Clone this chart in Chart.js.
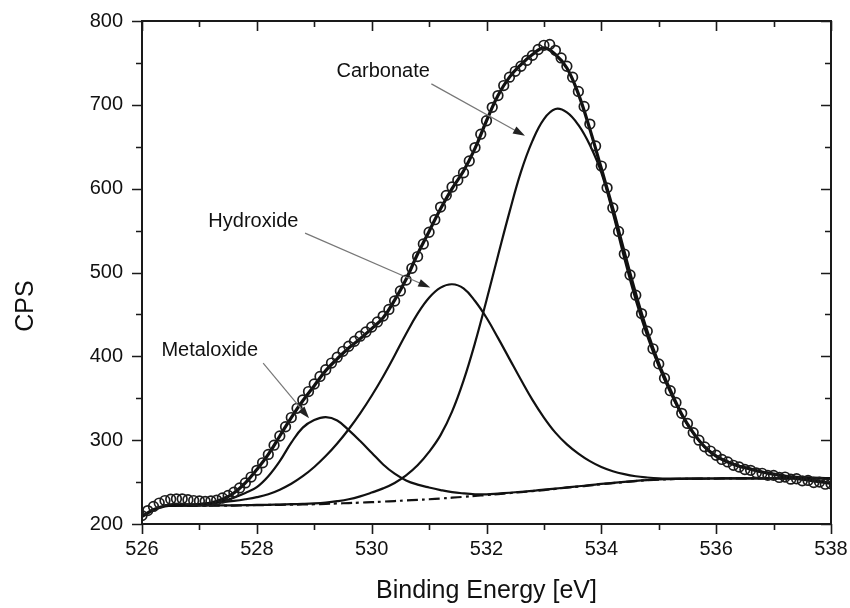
<!DOCTYPE html>
<html>
<head>
<meta charset="utf-8">
<script src="https://cdn.jsdelivr.net/npm/chart.js@4.4.1/dist/chart.umd.min.js"></script>
<style>
  html, body { margin: 0; padding: 0; background: #fff; }
</style>
</head>
<body>
<canvas id="xps" width="850" height="608"></canvas>
<script>
// measured points (circles), 0.1 eV step
const energy = [
  526.0, 526.1, 526.2, 526.3, 526.4, 526.5, 526.6, 526.7, 526.8, 526.9,
  527.0, 527.1, 527.2, 527.3, 527.4, 527.5, 527.6, 527.7, 527.8, 527.9,
  528.0, 528.1, 528.2, 528.3, 528.4, 528.5, 528.6, 528.7, 528.8, 528.9,
  529.0, 529.1, 529.2, 529.3, 529.4, 529.5, 529.6, 529.7, 529.8, 529.9,
  530.0, 530.1, 530.2, 530.3, 530.4, 530.5, 530.6, 530.7, 530.8, 530.9,
  531.0, 531.1, 531.2, 531.3, 531.4, 531.5, 531.6, 531.7, 531.8, 531.9,
  532.0, 532.1, 532.2, 532.3, 532.4, 532.5, 532.6, 532.7, 532.8, 532.9,
  533.0, 533.1, 533.2, 533.3, 533.4, 533.5, 533.6, 533.7, 533.8, 533.9,
  534.0, 534.1, 534.2, 534.3, 534.4, 534.5, 534.6, 534.7, 534.8, 534.9,
  535.0, 535.1, 535.2, 535.3, 535.4, 535.5, 535.6, 535.7, 535.8, 535.9,
  536.0, 536.1, 536.2, 536.3, 536.4, 536.5, 536.6, 536.7, 536.8, 536.9,
  537.0, 537.1, 537.2, 537.3, 537.4, 537.5, 537.6, 537.7, 537.8, 537.9,
  538.0
]
const cps = [
  210, 216, 221, 225, 228, 229.5, 230, 230, 229, 228,
  227.5, 227, 227.5, 228.5, 231, 234, 238, 243, 249, 256,
  264, 273, 283, 294, 305, 316, 327, 338, 348, 358,
  367, 376, 384, 392, 399, 406, 412, 418, 424, 429,
  435, 441, 448, 456, 466, 478, 491, 505, 519, 534,
  548, 563, 578, 592, 602, 610, 619, 633, 649, 665,
  681, 697, 711, 723, 733, 740, 746, 753, 759, 766,
  771, 772, 765, 756, 746, 733, 716, 698, 677, 651,
  627, 601, 577, 549, 522, 497, 473, 451, 430, 409,
  391, 374, 359, 345, 332, 320, 309, 300, 292, 287,
  282, 277, 274, 270, 268, 265, 264, 261, 260.5, 258,
  258, 255.5, 256, 253.5, 254, 251.5, 252, 249.5, 250, 247.5,
  248
]

// fitted curves, 0.2 eV step
const fitEnergy = [
  526.0, 526.2, 526.4, 526.6, 526.8, 527.0, 527.2, 527.4, 527.6, 527.8,
  528.0, 528.2, 528.4, 528.6, 528.8, 529.0, 529.2, 529.4, 529.6, 529.8,
  530.0, 530.2, 530.4, 530.6, 530.8, 531.0, 531.2, 531.4, 531.6, 531.8,
  532.0, 532.2, 532.4, 532.6, 532.8, 533.0, 533.2, 533.4, 533.6, 533.8,
  534.0, 534.2, 534.4, 534.6, 534.8, 535.0, 535.2, 535.4, 535.6, 535.8,
  536.0, 536.2, 536.4, 536.6, 536.8, 537.0, 537.2, 537.4, 537.6, 537.8, 538.0
]
const envelope = [
  209, 217, 221.5, 222.5, 222.8, 223.2, 225, 229.5, 237, 249,
  265, 283, 305, 327, 347, 365, 383, 397, 410, 421,
  433, 446, 467, 492, 522, 549, 576, 600, 621, 648,
  681, 711, 733, 748, 760, 768, 760, 744, 713, 671,
  624, 576, 524, 474, 429, 391, 360, 331, 309, 292,
  281, 274, 269, 265.5, 262, 259.5, 257, 254.5, 252.5, 250.5, 248.5
]
const metaloxide = [
  null, null, 222, 222.2, 222.5, 223, 224.5, 227, 231.5, 237,
  244, 257, 275, 297, 315, 324, 327.5, 323.5, 312, 299,
  285, 271, 260, 252, 247, 243.5, 240.5, 238, 236.5, 235.5,
  235.3, 236.2, 237.3, 238.4, 239.5, 241, 242.3, 243.6, 245, 246.3,
  247.8, 249, 250.2, 251.4, 252.4, 253.2, 253.6, 253.9, 254.1, 254.2,
  254.3, 254.4, 254.5, 254.5, 254.5, 254.5, 254.5, 254.5, 254.5, 254.5, 254.5
]
const hydroxide = [
  null, null, 222, 222.5, 223, 223.8, 224.8, 226, 227.5, 229.5,
  232, 235.5, 241, 248, 257, 268, 281, 296, 313, 332,
  353, 376, 401, 427, 451, 470, 482, 486, 481, 466,
  446, 422, 397, 372, 348, 327, 309, 295, 284, 275,
  268, 263, 259.5, 257, 255.5, 254.5, 254.2, 254.1, 254.1, 254.2,
  254.3, 254.4, 254.5, 254.5, 254.5, 254.5, 254.5, 254.5, 254.5, 254.5, 254.5
]
const carbonate = [
  null, null, 222, 222, 222, 222, 222.1, 222.2, 222.3, 222.5,
  222.7, 222.9, 223.2, 223.6, 224, 224.6, 225.6, 227.2, 229.5, 233,
  237.5, 242.5, 249, 258, 270, 286, 306, 334, 371, 416,
  467, 520, 572, 620, 657, 683, 695, 691, 676, 652,
  619, 571, 517, 467, 424, 388, 357, 330, 308, 292,
  281, 274.5, 269.5, 265.5, 262, 259.5, 257.5, 256.3, 255.5, 255, 254.7
]
const background = [
  null, null, 222, 222, 222, 222, 222, 222, 222, 222.3,
  222.5, 222.7, 222.9, 223.1, 223.3, 223.6, 224, 224.5, 225, 225.5,
  226, 226.7, 227.4, 228.1, 228.8, 229.5, 230.4, 231.4, 232.4, 233.5,
  234.5, 235.7, 236.9, 238.1, 239.3, 240.5, 241.9, 243.3, 244.6, 246,
  247.5, 248.7, 250, 251.2, 252.2, 253, 253.5, 253.8, 254, 254.1,
  254.2, 254.3, 254.4, 254.4, 254.5, 254.5, 254.5, 254.5, 254.5, 254.5, 254.5
]

const FONT = "'Liberation Sans', Arial, Helvetica, sans-serif"

// labels with arrows, in data units
const notes = [
  { text: 'Carbonate',  at: [530.2, 740],  from: [531.04, 725], to: [532.67, 663] },
  { text: 'Hydroxide',  at: [527.94, 561], from: [528.84, 547], to: [531.02, 482] },
  { text: 'Metaloxide', at: [527.18, 407], from: [528.11, 392], to: [528.91, 326] }
]

const pts = (xs, ys) => xs.map((x, i) => ({ x: x, y: ys[i] }))

const curve = (ys, width, dash) => ({
  data: pts(fitEnergy, ys),
  borderColor: '#111',
  borderWidth: width,
  borderDash: dash || [],
  pointRadius: 0,
  fill: false,
  tension: 0.4,
  spanGaps: false
})

const frame = {
  id: 'frame',
  afterDatasetsDraw(chart) {
    const { ctx, chartArea: a, scales: { x, y } } = chart
    ctx.save()
    ctx.strokeStyle = '#1a1a1a'
    ctx.lineWidth = 1.6
    ctx.beginPath()
    for (let v = 526; v <= 538; v++) {
      const px = Math.round(x.getPixelForValue(v)) + 0.5
      const len = v % 2 === 0 ? 10 : 6
      ctx.moveTo(px, a.bottom); ctx.lineTo(px, a.bottom + len)
      ctx.moveTo(px, a.top); ctx.lineTo(px, a.top + len)
    }
    for (let v = 200; v <= 800; v += 50) {
      const py = Math.round(y.getPixelForValue(v)) + 0.5
      const len = v % 100 === 0 ? 10 : 6
      ctx.moveTo(a.left, py); ctx.lineTo(a.left - len, py)
      ctx.moveTo(a.right, py); ctx.lineTo(a.right - len, py)
    }
    ctx.stroke()
    ctx.lineWidth = 2
    ctx.strokeRect(a.left, a.top, a.right - a.left, a.bottom - a.top)

    // annotations
    ctx.fillStyle = '#111'
    ctx.font = '20px ' + FONT
    ctx.textAlign = 'center'
    ctx.textBaseline = 'middle'
    notes.forEach(n => {
      ctx.fillText(n.text, x.getPixelForValue(n.at[0]), y.getPixelForValue(n.at[1]))
      const x0 = x.getPixelForValue(n.from[0]), y0 = y.getPixelForValue(n.from[1])
      const x1 = x.getPixelForValue(n.to[0]), y1 = y.getPixelForValue(n.to[1])
      const ang = Math.atan2(y1 - y0, x1 - x0)
      ctx.strokeStyle = '#777'
      ctx.lineWidth = 1.2
      ctx.beginPath()
      ctx.moveTo(x0, y0)
      ctx.lineTo(x1 - 9 * Math.cos(ang), y1 - 9 * Math.sin(ang))
      ctx.stroke()
      ctx.fillStyle = '#222'
      ctx.beginPath()
      ctx.moveTo(x1, y1)
      ctx.lineTo(x1 - 12 * Math.cos(ang) + 4 * Math.sin(ang), y1 - 12 * Math.sin(ang) - 4 * Math.cos(ang))
      ctx.lineTo(x1 - 12 * Math.cos(ang) - 4 * Math.sin(ang), y1 - 12 * Math.sin(ang) + 4 * Math.cos(ang))
      ctx.closePath()
      ctx.fill()
      ctx.fillStyle = '#111'
    })

    // axis titles
    ctx.font = '25px ' + FONT
    ctx.fillText('Binding Energy [eV]', (a.left + a.right) / 2, 591)
    ctx.save()
    ctx.translate(26, 306)
    ctx.rotate(-Math.PI / 2)
    ctx.fillText('CPS', 0, 0)
    ctx.restore()
    ctx.restore()
  }
}

new Chart(document.getElementById('xps'), {
  type: 'line',
  data: {
    datasets: [
      {
        data: pts(energy, cps),
        showLine: false,
        pointRadius: 4.8,
        pointBorderWidth: 1.7,
        pointBorderColor: '#1c1c1c',
        pointBackgroundColor: 'rgba(0,0,0,0)'
      },
      curve(envelope, 3.2),
      curve(carbonate, 2.2),
      curve(hydroxide, 2.2),
      curve(metaloxide, 2.2),
      curve(background, 2.2, [11, 4, 3, 4])
    ]
  },
  options: {
    responsive: false,
    animation: false,
    devicePixelRatio: 1,
    layout: { padding: { left: 0, right: 19, top: 21, bottom: 0 } },
    plugins: { legend: { display: false }, tooltip: { enabled: false } },
    scales: {
      x: {
        type: 'linear',
        min: 526,
        max: 538,
        grid: { display: false, drawTicks: false },
        border: { display: false },
        ticks: { stepSize: 2, padding: 13, color: '#111', font: { family: FONT, size: 20 } },
        afterFit: s => { s.height = 84; s.paddingLeft = 0; s.paddingRight = 0 }
      },
      y: {
        min: 200,
        max: 800,
        grid: { display: false, drawTicks: false },
        border: { display: false },
        ticks: { stepSize: 100, padding: 19, color: '#111', font: { family: FONT, size: 20 } },
        afterFit: s => { s.width = 142; s.paddingTop = 0; s.paddingBottom = 0 }
      }
    }
  },
  plugins: [frame]
})
</script>
</body>
</html>
